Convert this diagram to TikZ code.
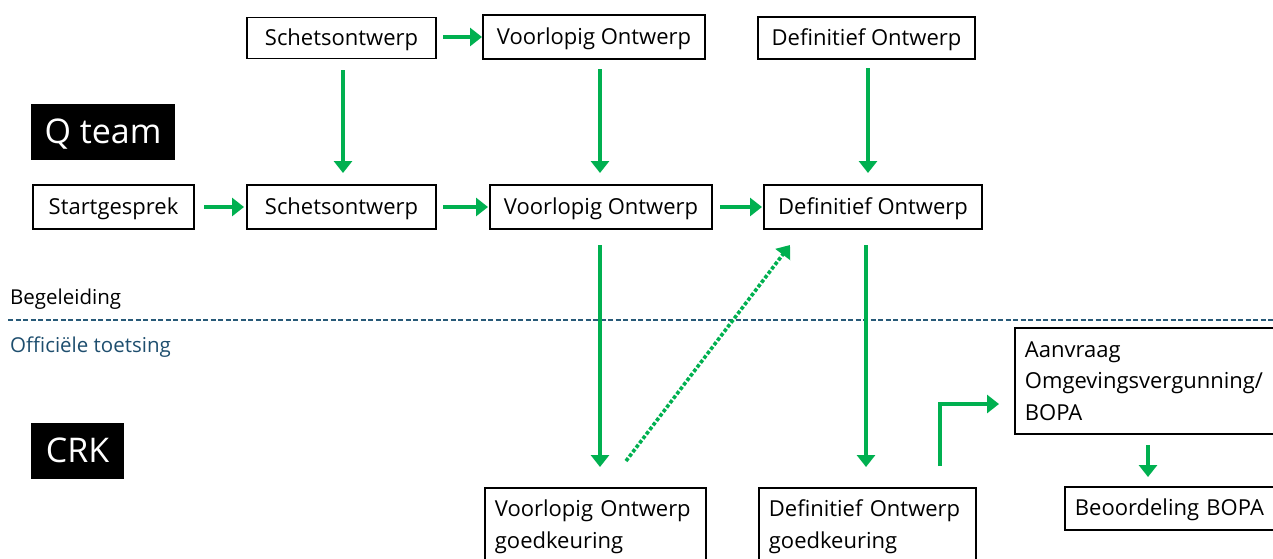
\documentclass[tikz,border=0pt]{standalone}
\usepackage{fontspec}
\setmainfont{Open Sans}
\usetikzlibrary{arrows.meta}
\definecolor{grn}{RGB}{0,176,80}
\definecolor{dline}{RGB}{40,90,120}
\definecolor{teal}{RGB}{30,78,110}
\begin{document}
\begin{tikzpicture}[x=1pt,y=-1pt,
  box/.style={draw=black,line width=1.8pt,inner sep=0pt,font=\fontsize{22}{31.5}\selectfont},
  one/.style={text height=18pt,text depth=4pt},
  lbl/.style={fill=black,text=white,inner sep=0pt,font=\fontsize{34}{38}\selectfont,text height=26pt,text depth=4pt},
  arr/.style={draw=grn,line width=3.6pt,-{Triangle[length=12pt,width=18pt]}},
  darr/.style={draw=grn,line width=3.6pt,dotted,-{Triangle[length=12pt,width=18pt]}}]
\useasboundingbox (0,0) rectangle (1273,558);
\clip (0,0) rectangle (1273,558);
% labels
\node[lbl,minimum width=144pt,minimum height=56pt] (qteam) at (103,132) {Q team};
\node[lbl,minimum width=93pt,minimum height=56pt] (crk) at (77.5,451) {CRK};
% top row
\node[box,one,minimum width=189pt,minimum height=41pt] (s1) at (341.5,38) {Schetsontwerp};
\node[box,one,minimum width=222pt,minimum height=44pt] (v1) at (594,37) {Voorlopig Ontwerp};
\node[box,one,minimum width=217pt,minimum height=42pt] (d1) at (866.5,38) {Definitief Ontwerp};
% middle row
\node[box,one,minimum width=161pt,minimum height=44pt] (st) at (113.5,207) {Startgesprek};
\node[box,one,minimum width=189pt,minimum height=44pt] (s2) at (341.5,207) {Schetsontwerp};
\node[box,one,minimum width=222pt,minimum height=44pt] (v2) at (601,207) {Voorlopig Ontwerp};
\node[box,one,minimum width=218pt,minimum height=44pt] (d2) at (873,207) {Definitief Ontwerp};
% bottom
\node[box,anchor=north west,minimum width=221pt,minimum height=78pt,text width=201pt,align=left,inner xsep=10pt,inner ysep=1pt] (vg) at (484,487) {Voorlopig Ontwerp\\goedkeuring};
\node[box,anchor=north west,minimum width=217pt,minimum height=78pt,text width=197pt,align=left,inner xsep=10pt,inner ysep=1pt] (dg) at (758,487) {Definitief Ontwerp\\goedkeuring};
\node[box,anchor=north west,minimum width=280pt,minimum height=106pt,text width=260pt,align=left,inner xsep=10pt,inner ysep=6pt] (aa) at (1014,327) {Aanvraag\\Omgevingsvergunning/\\BOPA};
\node[box,one,anchor=north west,minimum width=230pt,minimum height=43pt,text width=210pt,align=left,inner xsep=10pt] (bo) at (1064,486) {Beoordeling BOPA};
% divider
\coordinate (la) at (8,320);
\coordinate (lb) at (1273,320);
\draw[dline,line width=1.3pt,dash pattern=on 5pt off 2.5pt] (la) -- (lb);
\node[anchor=base west,inner sep=0pt,font=\fontsize{20.5}{24}\selectfont] (beg) at (10,304) {Begeleiding};
\node[anchor=base west,inner sep=0pt,font=\fontsize{20.5}{24}\selectfont,text=teal] (off) at (10,352) {Officiële toetsing};
% arrow endpoints
\coordinate (a1s) at (443,37);  \coordinate (a1e) at (482,37);
\coordinate (a2s) at (343,70);  \coordinate (a2e) at (343,173);
\coordinate (a3s) at (600,69);  \coordinate (a3e) at (600,173);
\coordinate (a4s) at (868,68);  \coordinate (a4e) at (868,173);
\coordinate (a5s) at (204,207); \coordinate (a5e) at (244,207);
\coordinate (a6s) at (443,207); \coordinate (a6e) at (488,207);
\coordinate (a7s) at (720,207); \coordinate (a7e) at (762,207);
\coordinate (a8s) at (600,245); \coordinate (a8e) at (600,467);
\coordinate (a9s) at (866,245); \coordinate (a9e) at (866,467);
\coordinate (dotstart) at (626,461);
\coordinate (dotend) at (790,245);
\coordinate (elb) at (940,466); \coordinate (elbe) at (999,404);
\coordinate (a10s) at (1148,445); \coordinate (a10e) at (1148,477);
\draw[arr] (a1s) -- (a1e);
\draw[arr] (a2s) -- (a2e);
\draw[arr] (a3s) -- (a3e);
\draw[arr] (a4s) -- (a4e);
\draw[arr] (a5s) -- (a5e);
\draw[arr] (a6s) -- (a6e);
\draw[arr] (a7s) -- (a7e);
\draw[arr] (a8s) -- (a8e);
\draw[arr] (a9s) -- (a9e);
\draw[darr] (dotstart) -- (dotend);
\draw[arr] (elb) |- (elbe);
\draw[arr] (a10s) -- (a10e);
\end{tikzpicture}
\end{document}
